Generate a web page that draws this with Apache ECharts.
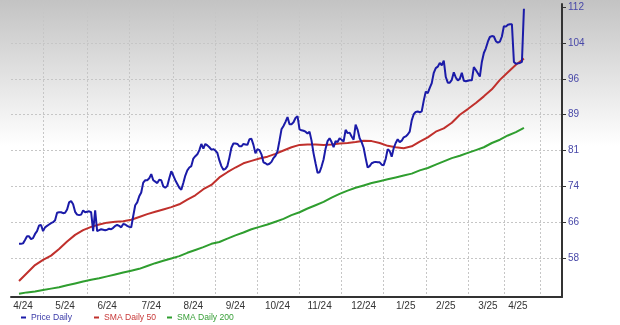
<!DOCTYPE html>
<html><head><meta charset="utf-8">
<script src="https://cdn.jsdelivr.net/npm/echarts@6/dist/echarts.min.js"></script>
<style>html,body{margin:0;padding:0;background:#fff}#c{width:620px;height:325px}</style>
</head><body><div id="c"></div>
<script>
// ---- data ----
// Daily closing prices, one per trading day (Apr 2024 .. Apr 9 2025)
const priceDaily = [
  61.9, 61.9, 62.0, 62.7, 63.5, 63.5, 62.9, 63.1, 64.0, 64.6,
  65.8, 65.9, 64.6, 65.4, 65.7, 66.0, 66.3, 66.5, 66.9, 68.5,
  68.6, 68.6, 68.4, 68.5, 69.2, 70.7, 71.0, 70.3, 68.7, 68.1,
  68.0, 68.1, 69.0, 68.6, 68.7, 68.8, 68.6, 64.6, 69.0, 64.6,
  64.8, 65.0, 64.9, 64.8, 64.9, 65.1, 65.0, 65.3, 65.7, 65.9,
  65.7, 65.4, 66.1, 66.0, 65.7, 65.5, 65.4, 67.8, 70.1, 70.7,
  72.0, 72.8, 74.9, 75.4, 75.4, 75.8, 76.7, 75.4, 75.1, 74.8,
  75.5, 75.4, 74.1, 73.8, 74.2, 75.8, 77.3, 76.4, 75.4, 74.6,
  73.8, 73.4, 74.8, 76.4, 77.5, 78.1, 78.4, 80.0, 80.5, 80.9,
  81.8, 83.1, 82.1, 83.1, 82.8, 82.4, 81.9, 82.0, 81.7, 81.2,
  79.6, 78.4, 77.6, 77.8, 78.4, 80.2, 82.3, 83.2, 83.2, 83.1,
  82.6, 82.6, 83.1, 83.0, 82.9, 84.1, 84.2, 82.9, 81.1, 82.0,
  81.8, 80.9, 79.2, 79.0, 78.7, 78.9, 79.3, 80.1, 80.6, 81.5,
  83.8, 86.2, 86.9, 87.8, 88.8, 87.3, 87.3, 87.7, 88.6, 89.0,
  86.2, 86.0, 85.9, 85.7, 85.3, 85.7, 83.8, 81.1, 79.0, 77.0,
  77.1, 78.3, 79.8, 82.1, 83.7, 84.3, 83.5, 82.4, 83.7, 83.5,
  84.3, 84.0, 83.6, 86.1, 85.4, 85.5, 84.7, 84.0, 87.2, 86.1,
  84.3, 83.5, 82.3, 80.1, 78.1, 78.4, 79.0, 79.2, 79.3, 79.2,
  79.2, 78.7, 78.6, 79.9, 82.0, 81.6, 80.4, 82.2, 83.3, 84.1,
  83.5, 83.8, 84.5, 84.7, 85.1, 85.7, 88.1, 89.4, 89.9, 90.0,
  89.8, 90.0, 92.3, 94.2, 93.9, 95.0, 96.0, 98.2, 99.2, 99.5,
  100.3, 99.8, 100.8, 97.3, 96.1, 96.1, 96.7, 98.3, 97.2, 96.6,
  96.9, 98.2, 96.5, 96.4, 96.5, 96.6, 96.6, 99.4, 98.8, 98.1,
  97.4, 100.5, 102.4, 103.4, 104.8, 105.8, 106.0, 105.9, 104.9, 104.6,
  104.8, 105.9, 108.1, 108.0, 108.4, 108.5, 108.5, 100.5, 100.1, 100.2,
  100.3, 100.5, 111.8
];
// Moving averages, one reading every 4 trading days
const sma50 = [
  54.0, 55.7, 57.4, 58.5, 59.4, 60.8, 62.4, 63.8, 64.8, 65.5,
  66.0, 66.4, 66.6, 66.7, 67.0, 67.6, 68.2, 68.7, 69.2, 69.7,
  70.3, 71.3, 72.2, 73.5, 74.4, 76.0, 77.1, 78.1, 79.0, 79.5,
  80.0, 80.4, 81.0, 81.7, 82.4, 82.9, 83.0, 83.0, 82.9, 83.0,
  83.2, 83.3, 83.5, 83.8, 83.7, 83.3, 82.7, 82.4, 82.2, 82.6,
  83.6, 84.5, 85.7, 86.4, 87.6, 89.3, 90.5, 91.8, 93.2, 94.7,
  96.7, 98.3, 99.9, 101.2
];
const sma200 = [
  51.3, 51.6, 51.8, 52.1, 52.4, 52.7, 53.1, 53.5, 53.9, 54.3,
  54.6, 55.0, 55.4, 55.8, 56.2, 56.6, 57.2, 57.8, 58.3, 58.8,
  59.3, 60.0, 60.6, 61.2, 61.9, 62.3, 63.0, 63.7, 64.3, 65.0,
  65.5, 66.0, 66.6, 67.2, 68.0, 68.6, 69.4, 70.1, 70.8, 71.7,
  72.5, 73.2, 73.8, 74.3, 74.8, 75.2, 75.6, 76.0, 76.4, 76.8,
  77.5, 78.0, 78.7, 79.4, 80.1, 80.6, 81.2, 81.8, 82.4, 83.3,
  84.0, 84.9, 85.6, 86.5
];
const smaStep = 4;          // trading days between SMA readings
const priceStartSlot = 4;   // first trading day slot on the axis
const slotCount = 276;      // trading-day slots on the x axis

// x-axis month labels and the slots where they and the grid lines sit
const monthLabels = ['4/24','5/24','6/24','7/24','8/24','9/24','10/24','11/24','12/24','1/25','2/25','3/25','4/25'];
const monthLabelSlots = [6, 27, 48, 70, 91, 112, 133, 154, 176, 197, 217, 238, 253];
const monthGridSlots = [16, 38, 59, 81, 102, 123, 144, 165, 186, 207, 228, 246, 264];

// y-axis ticks (equally spaced) and their printed labels
const yTicks = [58.9, 66.5, 74.1, 81.7, 89.3, 96.9, 104.5, 112.1];
const yTickLabels = ['58', '66', '74', '81', '89', '96', '104', '112'];
const yMin = 50.62, yMax = 112.8;

const seriesNames = ['Price Daily', 'SMA Daily 50', 'SMA Daily 200'];
const seriesColors = ['#1b1ba8', '#c0302c', '#2f9e2f'];
const legendTextColors = ['#3a3aa8', '#c83a3a', '#3aa03a'];
const legendLefts = [21, 94, 167];

// ---- chart ----
const slots = Array.from({length: slotCount}, (_, i) => String(i));
const labelMap = new Map(monthLabelSlots.map((s, i) => [s, monthLabels[i]]));
const gridSet = new Set(monthGridSlots);
const gridLine = {color: '#c6c6c6', width: 1, type: [2, 2]};
const font = 'Liberation Sans, Arial, sans-serif';

const chart = echarts.init(document.getElementById('c'), null, {renderer: 'canvas'});
chart.setOption({
  animation: false,
  backgroundColor: {
    type: 'linear', x: 0, y: 0, x2: 0, y2: 1,
    colorStops: [
      {offset: 0, color: '#c3c3c3'},
      {offset: 0.45, color: '#ffffff'},
      {offset: 1, color: '#ffffff'}
    ]
  },
  grid: {left: 11, right: 58, top: 4, bottom: 28},
  xAxis: {
    type: 'category', data: slots, boundaryGap: false,
    axisLine: {lineStyle: {color: '#333', width: 2}},
    axisTick: {show: false},
    axisLabel: {
      interval: (i) => labelMap.has(i),
      formatter: (v, i) => labelMap.get(i) || '',
      color: '#333', fontSize: 10, fontFamily: font, margin: 4
    },
    splitLine: {show: true, interval: (i) => gridSet.has(i), lineStyle: gridLine}
  },
  yAxis: {
    type: 'value', position: 'right', min: yMin, max: yMax,
    axisLine: {show: true, lineStyle: {color: '#333', width: 2}},
    axisTick: {show: true, length: 4, customValues: yTicks, lineStyle: {color: '#333', width: 1}},
    axisLabel: {
      customValues: yTicks,
      formatter: (v) => {
        let best = 0;
        yTicks.forEach((t, i) => { if (Math.abs(t - v) < Math.abs(yTicks[best] - v)) best = i; });
        return yTickLabels[best];
      },
      color: '#4848a8', fontSize: 10, fontFamily: font, margin: 6
    },
    splitLine: {show: true, lineStyle: gridLine}
  },
  legend: seriesNames.map((n, i) => ({
    left: legendLefts[i], top: 313, padding: 0, icon: 'rect', itemWidth: 5, itemHeight: 2,
    textStyle: {fontSize: 8.6, fontFamily: font, color: legendTextColors[i]},
    data: [n]
  })),
  series: [
    {
      name: seriesNames[2], type: 'line', showSymbol: false, z: 2,
      data: sma200.map((v, k) => [priceStartSlot + k * smaStep, v]),
      lineStyle: {color: seriesColors[2], width: 2}, itemStyle: {color: seriesColors[2]}
    },
    {
      name: seriesNames[1], type: 'line', showSymbol: false, z: 3,
      data: sma50.map((v, k) => [priceStartSlot + k * smaStep, v]),
      lineStyle: {color: seriesColors[1], width: 2}, itemStyle: {color: seriesColors[1]}
    },
    {
      name: seriesNames[0], type: 'line', showSymbol: false, z: 4,
      data: priceDaily.map((v, j) => [priceStartSlot + j, v]),
      lineStyle: {color: seriesColors[0], width: 2}, itemStyle: {color: seriesColors[0]}
    }
  ]
});
</script></body></html>
